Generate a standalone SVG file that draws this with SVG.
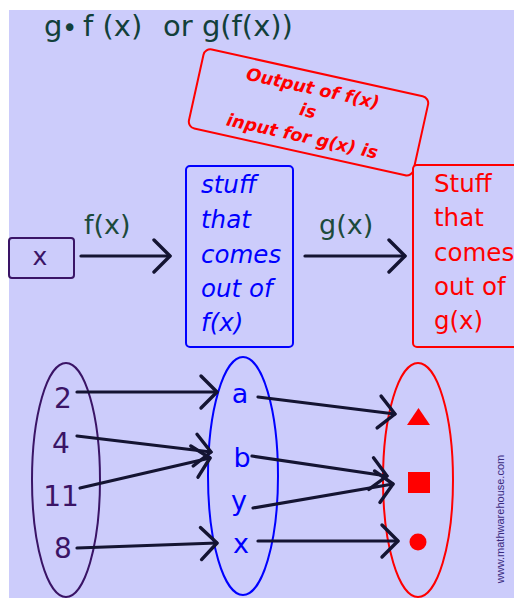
<svg xmlns="http://www.w3.org/2000/svg" width="514" height="599" viewBox="0 0 514 599">
  <defs>
    <marker id="chev" markerUnits="userSpaceOnUse" orient="auto" refX="0" refY="0" markerWidth="40" markerHeight="40" viewBox="-20 -20 40 40" overflow="visible">
      <path d="M -16 -16 L 0 0 L -16 16" fill="none" stroke="#141432" stroke-width="3.4" stroke-linecap="round" stroke-linejoin="round"/>
    </marker>
  </defs>
  <style>
    .t { font-family: "DejaVu Sans", Verdana, sans-serif; }
    .conn { fill: none; stroke: #141432; stroke-width: 3.2; stroke-linecap: round; marker-end: url(#chev); }
    .lbl { font-family: "DejaVu Sans", Verdana, sans-serif; font-size: 27px; fill: #1c4a3c; }
    .blue { font-family: "DejaVu Sans", Verdana, sans-serif; font-size: 24.5px; font-style: italic; fill: #0000ff; }
    .red { font-family: "DejaVu Sans", Verdana, sans-serif; font-size: 24.5px; fill: #ff0000; }
    .num { font-family: "DejaVu Sans", Verdana, sans-serif; font-size: 28px; fill: #3a1466; text-anchor: middle; }
    .let { font-family: "DejaVu Sans", Verdana, sans-serif; font-size: 27px; fill: #0000ff; text-anchor: middle; }
  </style>
  <rect x="0" y="0" width="514" height="599" fill="#ffffff"/>
  <rect x="9" y="10" width="505" height="588" fill="#ccccfb"/>

  <g id="title">
    <text class="t" y="36" font-size="29" fill="#12403a"><tspan x="44">g</tspan><tspan x="62" y="37" font-size="26">•</tspan><tspan x="83" y="36">f (x)</tspan><tspan x="163">or g(f(x))</tspan></text>
  </g>

  <g id="note" transform="translate(205,48) rotate(12.5)">
    <rect x="0" y="0" width="230" height="81" rx="7" fill="#ccccfb" stroke="#ff0000" stroke-width="2"/>
    <g font-family="DejaVu Sans, Verdana, sans-serif" font-size="17.5" font-weight="bold" font-style="italic" fill="#ff0000" text-anchor="middle">
      <text x="114" y="22">Output of f(x)</text>
      <text x="114" y="45">is</text>
      <text x="114" y="71">input for g(x) is</text>
    </g>
  </g>

  <g id="input-x">
    <rect x="9" y="238" width="65" height="40" rx="3" fill="none" stroke="#3a1466" stroke-width="2"/>
    <text class="t" x="40" y="265" font-size="25" fill="#3a1466" text-anchor="middle">x</text>
  </g>

  <g id="f-output">
    <rect x="186" y="166" width="107" height="181" rx="4" fill="none" stroke="#0000ff" stroke-width="2"/>
    <text class="blue" x="201" y="193">stuff</text>
    <text class="blue" x="201" y="228">that</text>
    <text class="blue" x="201" y="263">comes</text>
    <text class="blue" x="201" y="297">out of</text>
    <text class="blue" x="201" y="331">f(x)</text>
  </g>

  <g id="g-output">
    <rect x="413" y="165" width="110" height="182" rx="4" fill="#ccccfb" stroke="#ff0000" stroke-width="2"/>
    <text class="red" x="434" y="192">Stuff</text>
    <text class="red" x="434" y="226">that</text>
    <text class="red" x="434" y="261">comes</text>
    <text class="red" x="434" y="295">out of</text>
    <text class="red" x="434" y="329">g(x)</text>
  </g>

  <g id="labels">
    <text class="lbl" x="84" y="234">f(x)</text>
    <text class="lbl" x="319" y="234">g(x)</text>
  </g>

  <g id="domain">
    <ellipse cx="66" cy="480" rx="34" ry="117" fill="none" stroke="#3a1466" stroke-width="2"/>
    <text class="num" x="63" y="408">2</text>
    <text class="num" x="61" y="453">4</text>
    <text class="num" x="61" y="506">11</text>
    <text class="num" x="63" y="558">8</text>
  </g>

  <g id="middle-set">
    <ellipse cx="243" cy="476" rx="35" ry="119" fill="none" stroke="#0000ff" stroke-width="2"/>
    <text class="let" x="240" y="403">a</text>
    <text class="let" x="242" y="467">b</text>
    <text class="let" x="239" y="510">y</text>
    <text class="let" x="241" y="553">x</text>
  </g>

  <g id="range">
    <ellipse cx="418" cy="480" rx="35" ry="117" fill="none" stroke="#ff0000" stroke-width="2"/>
    <polygon points="407,425 430,425 418.5,408" fill="#ff0000"/>
    <rect x="408" y="472" width="22" height="21" fill="#ff0000"/>
    <circle cx="418" cy="542" r="8.5" fill="#ff0000"/>
  </g>

  <g id="connectors">
    <line class="conn" x1="81" y1="256" x2="170" y2="256"/>
    <line class="conn" x1="305" y1="256" x2="405" y2="256"/>
    <line class="conn" x1="77" y1="392" x2="217" y2="392"/>
    <line class="conn" x1="77" y1="436" x2="211" y2="452"/>
    <line class="conn" x1="80" y1="488" x2="210" y2="458"/>
    <line class="conn" x1="77" y1="548" x2="217" y2="543"/>
    <line class="conn" x1="258" y1="397" x2="395" y2="414"/>
    <line class="conn" x1="252" y1="456" x2="387" y2="476"/>
    <line class="conn" x1="253" y1="508" x2="393" y2="484"/>
    <line class="conn" x1="258" y1="541" x2="398" y2="541"/>
  </g>

  <g id="watermark">
    <text x="0" y="0" transform="translate(504,519) rotate(-90)" font-family="Liberation Sans, Arial, sans-serif" font-size="11" fill="#3a2a80" text-anchor="middle">www.mathwarehouse.com</text>
  </g>
</svg>
